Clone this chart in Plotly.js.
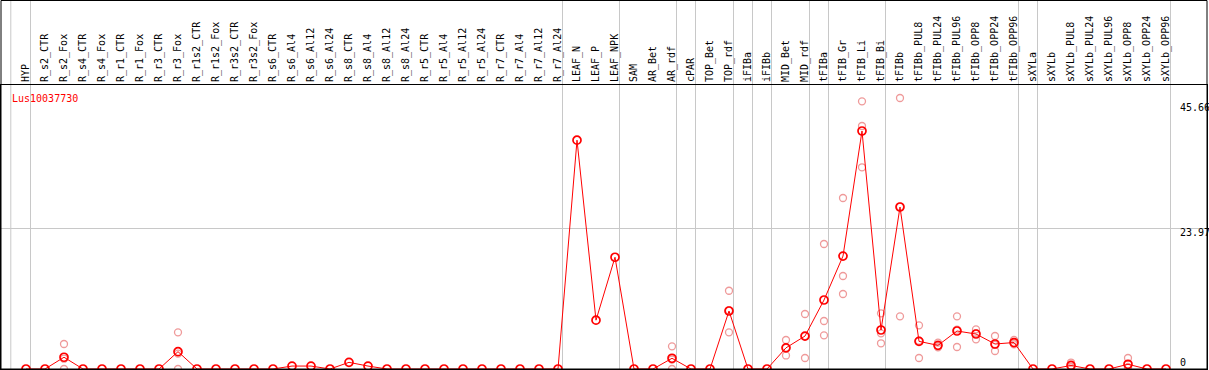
<!DOCTYPE html>
<html>
<head>
<meta charset="utf-8">
<script src="https://cdn.plot.ly/plotly-3.0.1.min.js"></script>
<style>html,body{margin:0;padding:0;background:#fff;}#chart{width:1209px;height:370px;}</style>
</head>
<body>
<div id="chart"></div>
<script>
var categories = ["HYP","R_s2_CTR","R_s2_Fox","R_s4_CTR","R_s4_Fox","R_r1_CTR","R_r1_Fox","R_r3_CTR","R_r3_Fox",
  "R_r1s2_CTR","R_r1s2_Fox","R_r3s2_CTR","R_r3s2_Fox","R_s6_CTR","R_s6_Al4","R_s6_Al12","R_s6_Al24",
  "R_s8_CTR","R_s8_Al4","R_s8_Al12","R_s8_Al24","R_r5_CTR","R_r5_Al4","R_r5_Al12","R_r5_Al24",
  "R_r7_CTR","R_r7_Al4","R_r7_Al12","R_r7_Al24","LEAF_N","LEAF_P","LEAF_NPK","SAM","AR_Bet","AR_rdf",
  "cPAR","TOP_Bet","TOP_rdf","iFIBa","iFIBb","MID_Bet","MID_rdf","tFIBa","tFIB_Gr","tFIB_Li","tFIB_Bi",
  "tFIBb","tFIBb_PUL8","tFIBb_PUL24","tFIBb_PUL96","tFIBb_OPP8","tFIBb_OPP24","tFIBb_OPP96","sXYLa",
  "sXYLb","sXYLb_PUL8","sXYLb_PUL24","sXYLb_PUL96","sXYLb_OPP8","sXYLb_OPP24","sXYLb_OPP96"];

var meanValues = [0,0,2.0,0,0,0,0,0,2.95,
  0,0,0,0,0,0.5,0.5,0,
  1.13,0.5,0,0,0,0,0,0,
  0,0,0,0,38.9,8.3,19.0,0,0,1.82,
  0,0,9.86,0,0,3.6,5.6,11.73,19.2,40.46,6.63,
  27.54,4.7,4.02,6.46,5.95,4.25,4.5,0,
  0,0.6,0,0,0.8,0,0];

var rep1 = [null,null,4.25,null,null,null,null,null,6.23,
  null,null,null,null,null,null,null,null,
  null,null,null,null,null,null,null,null,
  null,null,null,null,null,null,null,null,null,3.85,
  null,null,13.3,null,null,4.93,9.35,21.25,29.07,45.5,9.46,
  46.07,7.42,4.48,8.95,6.74,5.61,4.93,null,
  null,1.1,null,null,1.87,null,null];
var rep2 = [null,null,0,null,null,null,null,null,0,
  null,null,null,null,null,null,null,null,
  null,null,null,null,null,null,null,null,
  null,null,null,null,null,null,null,null,null,0,
  null,null,6.23,null,null,2.3,1.87,8.16,15.81,41.31,6.06,
  8.95,1.87,3.68,3.74,5.04,3.06,4.36,null,
  null,0.3,null,null,0.3,null,null];
var rep3 = [null,null,1.75,null,null,null,null,null,2.62,
  null,null,null,null,null,null,null,null,
  null,null,null,null,null,null,null,null,
  null,null,null,null,null,null,null,null,null,1.6,
  null,null,10.0,null,null,3.6,5.6,5.72,12.75,34.29,4.37,
  27.6,4.8,3.9,6.7,6.07,4.1,4.2,null,
  null,0.4,null,null,0.3,null,null];

var groupEnds = ["HYP","R_r7_Al24","LEAF_NPK","AR_rdf","cPAR","TOP_rdf","iFIBa","iFIBb","MID_rdf",
  "tFIBa","tFIB_Bi","tFIBb_OPP96","sXYLa","sXYLb_OPP96"];

var geneName = "Lus10037730";
var yTickVals = [0, 23.97, 45.66];
var yTickText = ["0", "23.97", "45.66"];

var FONT = "DejaVu Sans Mono, monospace";
var W = 1209, H = 370, ML = 1, MR = 2, MT = 85, MB = 1;
var plotW = W - ML - MR, plotH = H - MT - MB;
var pxPerCat = 19, firstPx = 26;
var x0 = -(firstPx - ML) / pxPerCat;
var x1 = x0 + plotW / pxPerCat;
var yMax = 48.28;
var topPaper = 1 + (MT - 0.5) / plotH;

var paleStyle = {color: "#ef9a9a", size: 7, symbol: "circle-open", line: {width: 1.3, color: "#ef9a9a"}};
var traces = [];
[rep1, rep2, rep3].forEach(function (r) {
  traces.push({x: categories, y: r, type: "scatter", mode: "markers", marker: paleStyle,
    hoverinfo: "skip", showlegend: false, cliponaxis: true});
});
traces.push({x: categories, y: meanValues, type: "scatter", mode: "lines+markers",
  line: {color: "#ff0000", width: 1},
  marker: {color: "#ff0000", size: 8, symbol: "circle-open", line: {width: 1.7, color: "#ff0000"}},
  showlegend: false, cliponaxis: true});

var shapes = [];
var sepOffset = 4.5 / pxPerCat;
var sepIdx = [-0.8 - sepOffset].concat(groupEnds.map(function (g) { return categories.indexOf(g); }));
sepIdx.forEach(function (i) {
  shapes.push({type: "line", xref: "x", yref: "paper", x0: i + sepOffset, x1: i + sepOffset,
    y0: 0, y1: topPaper, line: {color: "#c8c8c8", width: 1}, layer: "below"});
});
shapes.push({type: "rect", xref: "paper", yref: "paper", x0: 0, x1: 1, y0: 0, y1: topPaper,
  line: {color: "#000", width: 1}, layer: "above"});

var annotations = [{
  text: geneName, xref: "paper", yref: "paper", x: (10 - ML) / plotW, y: 1 - (98 - MT) / plotH,
  xanchor: "left", yanchor: "middle", showarrow: false, font: {family: FONT, size: 10, color: "#ff0000"}
}];
var yShifts = [7, -4, -7];
yTickVals.forEach(function (v, k) {
  annotations.push({text: yTickText[k], xref: "paper", yref: "y", x: (1178 - ML) / plotW, y: v,
    xanchor: "left", yanchor: "middle", yshift: yShifts[k], showarrow: false,
    font: {family: FONT, size: 10, color: "#000"}});
});

var layout = {
  width: W, height: H,
  margin: {l: ML, r: MR, t: MT, b: MB, pad: 0},
  paper_bgcolor: "#fff", plot_bgcolor: "#fff",
  showlegend: false,
  font: {family: FONT, size: 10, color: "#000"},
  xaxis: {type: "category", side: "top", range: [x0, x1], tickangle: -90, ticks: "",
    showgrid: false, zeroline: false, showline: true, mirror: true, linecolor: "#000", linewidth: 1,
    tickfont: {family: FONT, size: 10, color: "#000"}, automargin: false, fixedrange: true},
  yaxis: {range: [0, yMax], tickvals: [yTickVals[1]], showticklabels: false, ticks: "",
    showgrid: true, gridcolor: "#c8c8c8", gridwidth: 1, zeroline: false,
    showline: true, mirror: true, linecolor: "#000", linewidth: 1, automargin: false, fixedrange: true},
  shapes: shapes,
  annotations: annotations
};

Plotly.newPlot("chart", traces, layout, {displayModeBar: false, staticPlot: true});
</script>
</body>
</html>
